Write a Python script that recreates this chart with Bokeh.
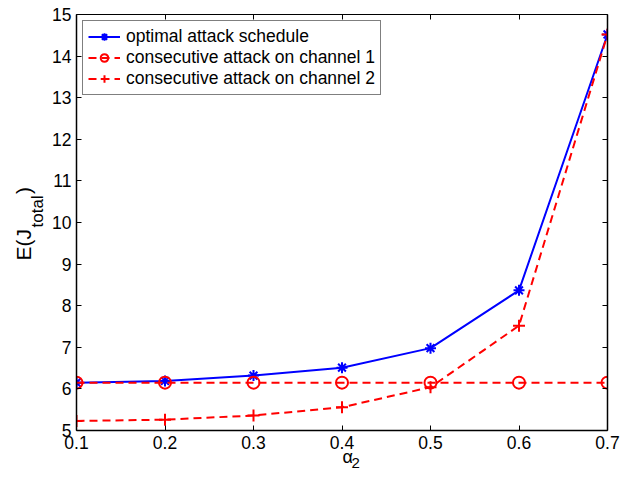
from bokeh.plotting import figure
from bokeh.models import Range1d, LinearAxis, FixedTicker, Legend, LegendItem, Title
from bokeh.embed import file_html
from bokeh.resources import INLINE

# data
alpha2 = [0.1, 0.2, 0.3, 0.4, 0.5, 0.6, 0.7]
optimal = [6.15, 6.19, 6.32, 6.51, 6.98, 8.37, 14.52]
channel1 = [6.15, 6.15, 6.15, 6.15, 6.15, 6.15, 6.15]
channel2 = [5.23, 5.26, 5.36, 5.56, 6.04, 7.52, 14.52]
x_ticks = [0.1, 0.2, 0.3, 0.4, 0.5, 0.6, 0.7]
y_ticks = [5, 6, 7, 8, 9, 10, 11, 12, 13, 14, 15]
legend_labels = ["optimal attack schedule",
                 "consecutive attack on channel 1",
                 "consecutive attack on channel 2"]

FONT = "Liberation Sans"
BLUE = "#0000ff"
RED = "#ff0000"
NBSP = "\u00a0"

p = figure(width=631, height=482, output_backend="svg", toolbar_location=None,
           x_range=Range1d(0.1, 0.7), y_range=Range1d(5, 15),
           min_border_left=76, min_border_right=24, min_border_top=14,
           min_border_bottom=52, x_axis_location=None, y_axis_location=None)
p.grid.visible = False
p.outline_line_color = None
p.background_fill_color = "white"
p.border_fill_color = "white"

def style_axis(ax, ticks, show_labels, width=1.5):
    ax.ticker = FixedTicker(ticks=ticks)
    ax.axis_line_color = "black"
    ax.axis_line_width = width
    ax.major_tick_line_color = "black"
    ax.major_tick_line_width = 1
    ax.major_tick_in = 5
    ax.major_tick_out = 0
    ax.minor_tick_line_color = None
    ax.major_label_text_font = FONT
    ax.major_label_text_font_size = "17.5px"
    ax.major_label_text_color = "black" if show_labels else None
    ax.major_label_standoff = 5

xb = LinearAxis(); style_axis(xb, x_ticks, True)
yl = LinearAxis(); style_axis(yl, y_ticks, True)
xt = LinearAxis(); style_axis(xt, x_ticks, False, 1)
yr = LinearAxis(); style_axis(yr, y_ticks, False, 1.5)
xb.major_label_overrides = {0.1: "0.1", 0.2: "0.2", 0.3: "0.3", 0.4: "0.4",
                            0.5: "0.5", 0.6: "0.6", 0.7: "0.7"}
p.add_layout(xb, "below")
p.add_layout(yl, "left")
p.add_layout(xt, "above")
p.add_layout(yr, "right")

def title(side, text, size, offset, standoff, valign):
    p.add_layout(Title(text=text, text_font=FONT, text_font_size=size,
                       text_font_style="normal", text_color="black",
                       align="left", offset=offset, standoff=standoff,
                       vertical_align=valign), side)

# y axis label E(J_total): subscript panel first (closer to plot), then main text
title("left", "total", "17px", 203, 5, "bottom")
title("left", "E(J" + NBSP * 6 + ")", "21px", 170, -22, "bottom")
# x axis label alpha_2
title("below", "α", "18px", 266, -10, "top")
title("below", "2", "15px", 275, -11, "top")

l1 = p.line(alpha2, optimal, line_color=BLUE, line_width=2)
m1 = p.scatter(alpha2, optimal, marker="asterisk", size=11, line_color=BLUE,
               line_width=2)
l2 = p.line(alpha2, channel1, line_color=RED, line_width=2, line_dash="8 5")
m2 = p.scatter(alpha2, channel1, marker="circle", size=12, line_color=RED,
               fill_color=None, line_width=2)
l3 = p.line(alpha2, channel2, line_color=RED, line_width=2, line_dash="8 5")
m3 = p.scatter(alpha2, channel2, marker="cross", size=12, line_color=RED,
               line_width=2)

legend = Legend(items=[LegendItem(label=legend_labels[0], renderers=[l1, m1]),
                       LegendItem(label=legend_labels[1], renderers=[l2, m2]),
                       LegendItem(label=legend_labels[2], renderers=[l3, m3])],
                location="top_left", margin=6, padding=5, spacing=0,
                glyph_width=32, glyph_height=19, label_height=19,
                label_standoff=6, label_text_font=FONT,
                label_text_font_size="17.5px", label_text_color="black",
                border_line_color="black", border_line_width=1,
                background_fill_color="white", background_fill_alpha=1)
p.add_layout(legend, "center")

open("out.html", "w").write(file_html(p, INLINE))
